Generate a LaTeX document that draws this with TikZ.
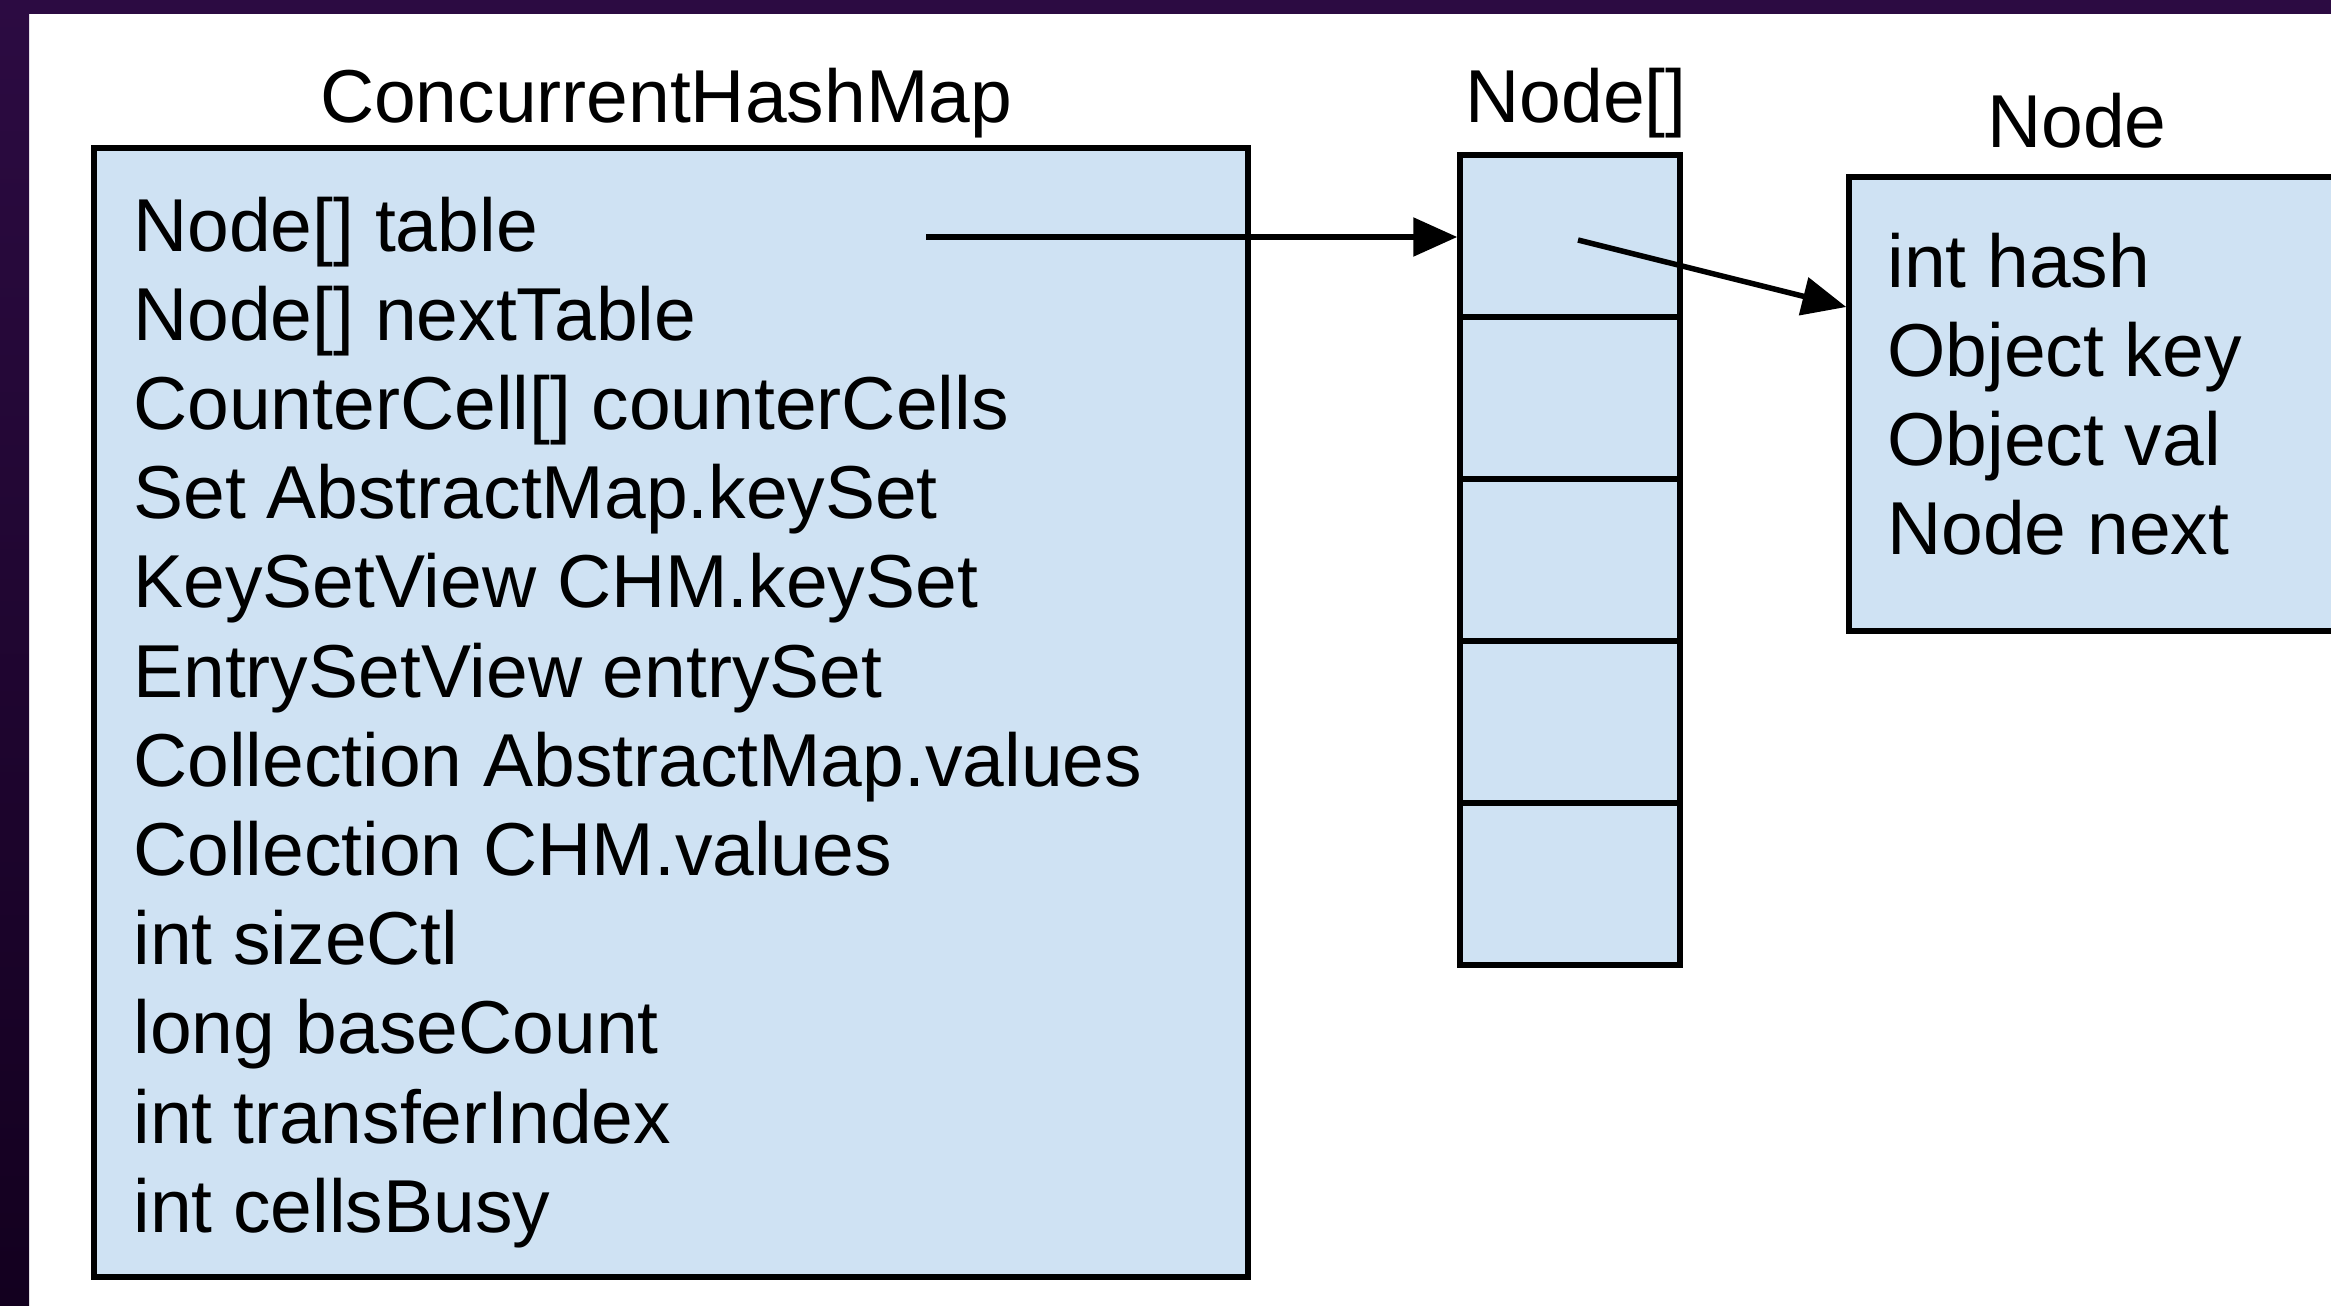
\documentclass[tikz,border=0pt]{standalone}
\usepackage{fontspec}
\setmainfont{Liberation Sans}
\usetikzlibrary{arrows.meta}
\definecolor{boxfill}{HTML}{CFE2F3}
\definecolor{frametop}{HTML}{2C0B42}
\definecolor{framebot}{HTML}{13001F}
\tikzset{
  box/.style={draw=black, line width=2.75pt, fill=boxfill, rectangle, inner sep=0pt},
  field/.style={anchor=base west, inner sep=0pt, font=\fontsize{37.5}{44.6}\selectfont},
  title/.style={anchor=base, inner sep=0pt, font=\fontsize{37.5}{44.6}\selectfont},
  link/.style={draw=black, line width=2.75pt, -{Triangle[length=22pt,width=19pt]}}
}
\begin{document}
\begin{tikzpicture}[x=0.5pt, y=-0.5pt]
\clip (0,0) rectangle (2331,1306);
\fill[white] (0,0) rectangle (2331,1306);
\shade[top color=frametop, bottom color=framebot] (0,0) rectangle (29,1306);
\fill[frametop] (0,0) rectangle (2331,14);

% titles
\node[title] (tchm) at (666,122) {ConcurrentHashMap};
\node[title] (tarr) at (1576,122) {Node[]};
\node[title] (tnode) at (2077,147) {Node};

% ConcurrentHashMap box
\node[box, minimum width=577pt, minimum height=564.5pt] (chm) at (671,712.5) {};
\foreach \i/\t in {0/{Node[] table},1/{Node[] nextTable},2/{CounterCell[] counterCells},
  3/{Set AbstractMap.keySet},4/{KeySetView CHM.keySet},5/{EntrySetView entrySet},
  6/{Collection AbstractMap.values},7/{Collection CHM.values},8/{int sizeCtl},
  9/{long baseCount},10/{int transferIndex},11/{int cellsBusy}}
  \node[field] (f\i) at (133,251+89.2*\i) {\t};

% Node[] array
\foreach \i in {1,...,5}
  \node[box, minimum width=110pt, minimum height=81pt] (cell\i) at (1570,155+81+162*\i-162) {};

% Node box
\node[box, minimum width=248pt, minimum height=227pt] (nbox) at (2097,404) {};
\foreach \i/\t in {0/{int hash},1/{Object key},2/{Object val},3/{Node next}}
  \node[field] (n\i) at (1887,287+89.2*\i) {\t};

% connectors
\coordinate (a1) at (926,237);
\coordinate (a2) at (1578,240);
\coordinate (t2y) at (0,307);
\draw[link] (a1) -- (a1 -| cell1.west);
\draw[link] (a2) -- (nbox.west |- t2y);
\end{tikzpicture}
\end{document}
